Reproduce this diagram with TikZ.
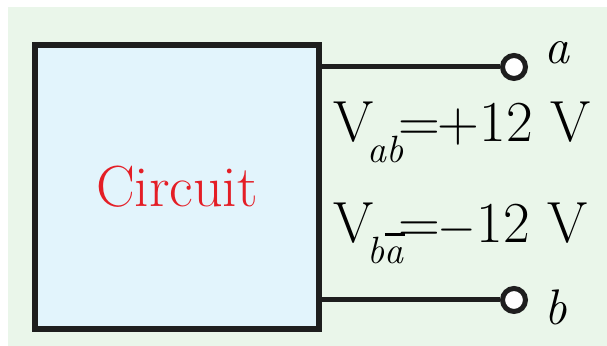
\documentclass[tikz,border=0pt]{standalone}
\usepackage{fontspec}
\definecolor{bggreen}{RGB}{234,246,234}
\definecolor{boxblue}{RGB}{226,244,252}
\definecolor{circred}{RGB}{228,30,38}
\definecolor{wire}{RGB}{30,30,30}
\newcommand{\vsub}[1]{\kern-0.1em\raisebox{-0.36em}{\fontsize{19}{19}\selectfont\itshape #1}\kern-0.1em}
\tikzset{
  terminal/.style={circle, draw=wire, line width=2.5pt, fill=white, minimum size=11.5pt, inner sep=0pt},
  voltage/.style={anchor=base west, inner sep=0pt, font=\fontsize{29}{31}\selectfont},
  pin/.style={anchor=base west, inner sep=0pt, font=\fontsize{25}{27}\selectfont\itshape}
}
\begin{document}
\begin{tikzpicture}[x=0.5pt, y=-0.5pt]
    \useasboundingbox (0,0) rectangle (607,346);
    \fill[bggreen] (8,7) rectangle (607,346);
    \node[draw=wire, line width=3pt, fill=boxblue, minimum width=142pt, minimum height=142pt, inner sep=0pt] (box) at (177,187) {};
    \node[text=circred, font=\fontsize{29}{31}\selectfont] (name) at (box.center) {Circuit};
    % terminals
    \node[terminal] (ta) at (514,67) {};
    \node[terminal] (tb) at (514,300) {};
    \draw[wire, line width=2.5pt] (box.east |- ta) -- (ta);
    \draw[wire, line width=2.5pt] (box.east |- tb) -- (tb);
    \node[pin] (la) at (544,64) {a};
    \node[pin] (lb) at (544,325) {b};
    \node[voltage] (vab) at (333,142) {V\vsub{ab}=\kern-1pt+12 V};
    \node[voltage] (vba) at (333,243) {V\vsub{b\rlap{\rule[14pt]{10pt}{1.3pt}}a}=\kern-1pt$-$12 V};
\end{tikzpicture}
\end{document}
